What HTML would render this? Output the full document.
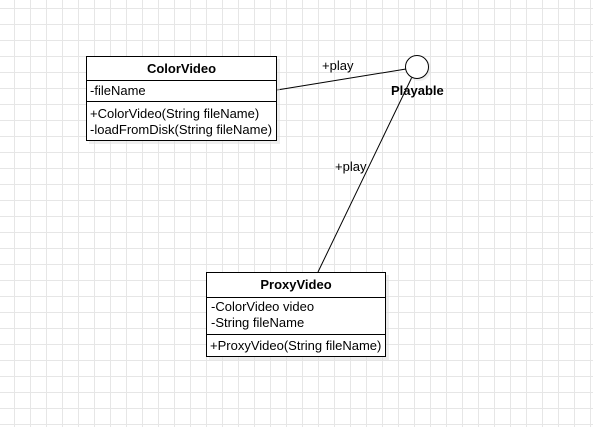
<!DOCTYPE html>
<html><head><style>
body{margin:0;width:593px;height:427px;overflow:hidden;background:#fff;
background-image:linear-gradient(#e6e6e6 1px,transparent 1px),linear-gradient(90deg,#e6e6e6 1px,transparent 1px);
background-size:16px 16px;background-position:14px 8px;font-family:"Liberation Sans",sans-serif;}
</style></head><body>
<svg width="593" height="427" style="position:absolute;left:0;top:0" font-family="Liberation Sans, sans-serif" font-size="13">
<line x1="277" y1="90" x2="406" y2="69" stroke="#000"/>
<line x1="318" y1="272" x2="412" y2="77" stroke="#000"/>
<circle cx="419" cy="69" r="12" fill="#ddd" opacity="0.5"/>
<circle cx="417" cy="67" r="11.5" fill="#fff" stroke="#000"/>
<text x="322" y="70">+play</text>
<text x="335" y="171">+play</text>
<text x="391" y="95" font-weight="bold">Playable</text>
<rect x="89" y="59" width="191" height="85" fill="#ddd" opacity="0.5"/>
<rect x="86.5" y="56.5" width="190" height="84" fill="#fff" stroke="#000"/>
<line x1="86" y1="80.5" x2="277" y2="80.5" stroke="#000"/>
<line x1="86" y1="101.5" x2="277" y2="101.5" stroke="#000"/>
<text x="181.5" y="73" text-anchor="middle" font-weight="bold">ColorVideo</text>
<text x="90" y="95">-fileName</text>
<text x="90" y="118">+ColorVideo(String fileName)</text>
<text x="90" y="134">-loadFromDisk(String fileName)</text>
<rect x="209" y="275" width="180" height="85" fill="#ddd" opacity="0.5"/>
<rect x="206.5" y="272.5" width="179" height="84" fill="#fff" stroke="#000"/>
<line x1="206" y1="297.5" x2="386" y2="297.5" stroke="#000"/>
<line x1="206" y1="334.5" x2="386" y2="334.5" stroke="#000"/>
<text x="296" y="289" text-anchor="middle" font-weight="bold">ProxyVideo</text>
<text x="211" y="311">-ColorVideo video</text>
<text x="211" y="327">-String fileName</text>
<text x="210" y="350">+ProxyVideo(String fileName)</text>
</svg>
</body></html>
